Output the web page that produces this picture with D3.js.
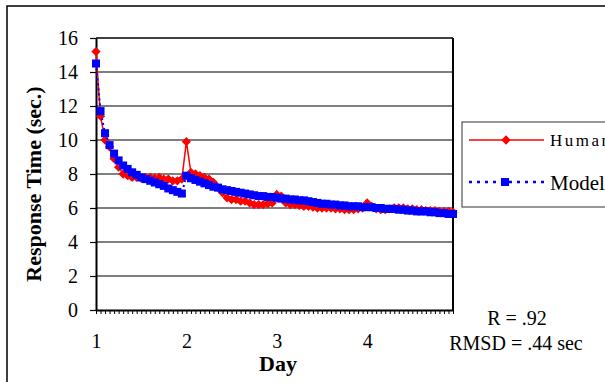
<!DOCTYPE html>
<html>
<head>
<meta charset="utf-8">
<script src="https://cdn.jsdelivr.net/npm/d3@7"></script>
<style>
  body { margin: 0; background: #fff; }
  svg text { font-family: "Times New Roman", "Liberation Serif", "DejaVu Serif", serif; }
</style>
</head>
<body>
<svg id="chart" width="605" height="382"></svg>
<script>
// data: 20 trials per day, 4 days
const dayLabels = ["1", "2", "3", "4"];
const trialsPerDay = 20;
const yTicks = [0, 2, 4, 6, 8, 10, 12, 14, 16];

const human = [
  15.2, 11.4, 10.0, 9.6, 8.9, 8.4, 8.0, 7.9, 7.8, 7.8, 7.75, 7.8, 7.8, 7.75, 7.8, 7.7, 7.7, 7.6, 7.6, 7.7,
  9.9, 8.1, 8.0, 7.9, 7.8, 7.7, 7.5, 7.2, 6.9, 6.6, 6.5, 6.5, 6.4, 6.4, 6.3, 6.2, 6.2, 6.2, 6.25, 6.3,
  6.8, 6.7, 6.3, 6.2, 6.2, 6.15, 6.1, 6.1, 6.05, 6.0, 6.0, 6.0, 6.0, 5.95, 5.95, 5.9, 5.9, 5.9, 5.95, 6.0,
  6.3, 6.1, 5.95, 5.9, 5.9, 5.95, 6.0, 6.0, 6.0, 5.95, 5.95, 5.9, 5.9, 5.85, 5.85, 5.85, 5.8, 5.8, 5.8, 5.75
];
const model = [
  14.5, 11.7, 10.4, 9.7, 9.2, 8.8, 8.5, 8.3, 8.1, 7.95, 7.8, 7.7, 7.6, 7.5, 7.4, 7.3, 7.15, 7.05, 6.95, 6.85,
  7.9, 7.75, 7.65, 7.55, 7.45, 7.35, 7.25, 7.2, 7.1, 7.05, 7.0, 6.95, 6.9, 6.85, 6.8, 6.75, 6.7, 6.7, 6.65, 6.65,
  6.6, 6.55, 6.55, 6.5, 6.5, 6.45, 6.45, 6.4, 6.35, 6.3, 6.25, 6.25, 6.2, 6.2, 6.15, 6.15, 6.1, 6.1, 6.1, 6.05,
  6.05, 6.05, 6.0, 6.0, 5.95, 5.95, 5.95, 5.9, 5.9, 5.85, 5.85, 5.8, 5.8, 5.8, 5.75, 5.75, 5.7, 5.7, 5.65, 5.65
];

const serif = "Times New Roman, Liberation Serif, DejaVu Serif, serif";
const svg = d3.select("#chart");

// outer frame (cut off on the right and bottom like the original)
svg.append("rect")
  .attr("x", 7).attr("y", 6)
  .attr("width", 640).attr("height", 420)
  .attr("fill", "none").attr("stroke", "#000").attr("stroke-width", 1.5);

const plot = { left: 96, right: 453, top: 38, bottom: 310 };

const x = d3.scaleLinear()
  .domain([0, human.length - 1])
  .range([plot.left, plot.right]);

const y = d3.scaleLinear()
  .domain([0, 16])
  .range([plot.bottom, plot.top]);

// gridlines
svg.append("g")
  .selectAll("line")
  .data(yTicks.filter(d => d > 0))
  .enter().append("line")
  .attr("x1", plot.left).attr("x2", plot.right)
  .attr("y1", d => y(d)).attr("y2", d => y(d))
  .attr("stroke", d => d === 16 ? "#000" : "#555")
  .attr("stroke-width", 1.5);

// right border of plot area
svg.append("line")
  .attr("x1", plot.right).attr("x2", plot.right)
  .attr("y1", plot.top).attr("y2", plot.bottom)
  .attr("stroke", "#000").attr("stroke-width", 2);

// y axis
const yAxis = svg.append("g")
  .attr("transform", `translate(${plot.left},0)`)
  .call(d3.axisLeft(y).tickValues(yTicks).tickSize(6).tickPadding(12).tickSizeOuter(0));
yAxis.attr("font-family", serif);
yAxis.select(".domain").attr("stroke-width", 2);
yAxis.selectAll(".tick line").attr("stroke-width", 1.2);
yAxis.selectAll("text")
  .attr("font-size", 20)
  .attr("fill", "#000");

// x axis: one small tick per trial, day number every 20 trials
const xAxis = svg.append("g")
  .attr("transform", `translate(0,${plot.bottom})`)
  .call(d3.axisBottom(x)
    .tickValues(d3.range(human.length))
    .tickSize(4)
    .tickSizeOuter(0)
    .tickFormat(i => i % trialsPerDay === 0 ? dayLabels[i / trialsPerDay] : ""));
xAxis.attr("font-family", serif);
xAxis.select(".domain").attr("stroke-width", 2);
xAxis.selectAll(".tick line").attr("stroke-width", 1);
xAxis.selectAll("text")
  .attr("y", 24)
  .attr("dy", "0.71em")
  .attr("font-size", 20)
  .attr("fill", "#000");

// axis titles
svg.append("text")
  .attr("x", 278).attr("y", 371)
  .attr("text-anchor", "middle")
  .attr("font-weight", "bold")
  .attr("font-size", 22)
  .text("Day");

svg.append("text")
  .attr("transform", "translate(41,184) rotate(-90)")
  .attr("text-anchor", "middle")
  .attr("font-weight", "bold")
  .attr("font-size", 22)
  .text("Response Time (sec.)");

// human series
const line = d3.line().x((d, i) => x(i)).y(d => y(d));

svg.append("path")
  .datum(human)
  .attr("d", line)
  .attr("fill", "none")
  .attr("stroke", "#ff0000")
  .attr("stroke-width", 1.5);

svg.append("g")
  .selectAll("path")
  .data(human)
  .enter().append("path")
  .attr("d", d3.symbol(d3.symbolDiamond2, 55))
  .attr("transform", (d, i) => `translate(${x(i)},${y(d)})`)
  .attr("fill", "#ff0000");

// model series
svg.append("path")
  .datum(model)
  .attr("d", line)
  .attr("fill", "none")
  .attr("stroke", "#0000ff")
  .attr("stroke-width", 2)
  .attr("stroke-dasharray", "2,3");

svg.append("g")
  .selectAll("rect")
  .data(model)
  .enter().append("rect")
  .attr("x", (d, i) => x(i) - 4)
  .attr("y", d => y(d) - 4)
  .attr("width", 8).attr("height", 8)
  .attr("fill", "#0000ff");

// legend
const legend = svg.append("g");
legend.append("rect")
  .attr("x", 462).attr("y", 122)
  .attr("width", 200).attr("height", 85)
  .attr("fill", "#fff").attr("stroke", "#333").attr("stroke-width", 1);

legend.append("line")
  .attr("x1", 469).attr("x2", 544).attr("y1", 140).attr("y2", 140)
  .attr("stroke", "#ff0000").attr("stroke-width", 1.5);
legend.append("path")
  .attr("d", d3.symbol(d3.symbolDiamond2, 55))
  .attr("transform", "translate(506,140)")
  .attr("fill", "#ff0000");
legend.append("text")
  .attr("x", 550).attr("y", 146)
  .attr("font-size", 17)
  .attr("letter-spacing", 2.5)
  .text("Human");

legend.append("line")
  .attr("x1", 469).attr("x2", 544).attr("y1", 182).attr("y2", 182)
  .attr("stroke", "#0000ff").attr("stroke-width", 2.5)
  .attr("stroke-dasharray", "3,5");
legend.append("rect")
  .attr("x", 501).attr("y", 178)
  .attr("width", 8).attr("height", 8)
  .attr("fill", "#0000ff");
legend.append("text")
  .attr("x", 550).attr("y", 190)
  .attr("font-size", 21)
  .text("Model");

// fit statistics
svg.append("text")
  .attr("x", 517).attr("y", 325)
  .attr("text-anchor", "middle")
  .attr("font-size", 20)
  .text("R = .92");
svg.append("text")
  .attr("x", 516).attr("y", 350)
  .attr("text-anchor", "middle")
  .attr("font-size", 20)
  .text("RMSD = .44 sec");
</script>
</body>
</html>
